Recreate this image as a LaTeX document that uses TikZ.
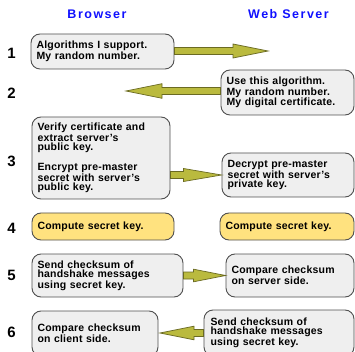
\documentclass[tikz,border=0pt]{standalone}
\usepackage{fontspec}
\setmainfont{Liberation Sans}[LetterSpace=2]
\newfontfamily\hdrfont{Liberation Sans}[LetterSpace=12]
\usetikzlibrary{calc}
\newcommand\apos{\symbol{39}}
\definecolor{boxgray}{HTML}{EFEFEF}
\definecolor{boxline}{HTML}{505050}
\definecolor{boxyellow}{HTML}{FFE27F}
\definecolor{arrfill}{HTML}{BABA3E}
\definecolor{arrline}{HTML}{6A6A22}
\definecolor{hdrblue}{HTML}{1010FF}
\tikzset{
  gbox/.style={draw=boxline, line width=0.9pt, fill=boxgray, rounded corners=9pt,
    inner xsep=5.5pt, inner ysep=0pt, align=left,
    font=\fontsize{10.5}{9.2}\selectfont\bfseries},
  ybox/.style={gbox, fill=boxyellow},
  hdr/.style={font=\hdrfont\fontsize{12.5}{14}\selectfont\bfseries, text=hdrblue},
  num/.style={font=\fontsize{15}{16}\selectfont\bfseries},
  arrowsty/.style={fill=arrfill, draw=arrline, line width=0.7pt, line join=miter}
}
% #1 tail, #2 tip, #3 head length, #4 head half width
\newcommand\fatarrow[4]{%
  \draw[arrowsty] let \p1=(#1), \p2=(#2), \n1={ifthenelse(\x2>\x1,1,-1)},
      \n2={\x2-\n1*#3} in
    ({\x1},{\y2-3.5pt}) -- ({\n2},{\y2-3.5pt}) -- ({\n2},{\y2-#4 pt})
    -- ({\x2},{\y2}) -- ({\n2},{\y2+#4 pt}) -- ({\n2},{\y2+3.5pt})
    -- ({\x1},{\y2+3.5pt}) -- cycle;}
\begin{document}
\begin{tikzpicture}[x=1pt,y=-1pt]
\clip (0,0) rectangle (355,352);
\fill[white] (0,0) rectangle (355,352);

\node[hdr] (hb) at (97,14) {Browser};
\node[hdr] (hs) at (288.5,14) {Web Server};

\node[num] (n1) at (11.5,53.5) {1};
\node[num] (n2) at (11.5,93) {2};
\node[num] (n3) at (11.5,161.5) {3};
\node[num] (n4) at (11.5,228) {4};
\node[num] (n5) at (11.5,275) {5};
\node[num] (n6) at (11.5,332) {6};

\node[gbox, minimum width=143pt, minimum height=35pt, text width=132pt] (b1) at (102.5,51.5)
  {Algorithms I support.\\My random number.};
\node[gbox, minimum width=133pt, minimum height=45pt, text width=122pt] (b2) at (287.5,92.5)
  {Use this algorithm.\\My random number.\\My digital certificate.};
\node[gbox, minimum width=138pt, minimum height=82pt, text width=127pt] (b3l) at (101,158)
  {Verify certificate and\\extract server\apos s\\public key.\\[10pt]Encrypt pre-master\\secret with server\apos s\\public key.};
\node[gbox, minimum width=132pt, minimum height=44pt, text width=121pt] (b3r) at (288,175)
  {Decrypt pre-master\\secret with server\apos s\\private key.};
\node[ybox, minimum width=142pt, minimum height=27pt, text width=131pt] (b4l) at (103,226.5)
  {Compute secret key.};
\node[ybox, minimum width=134pt, minimum height=27pt, text width=123pt] (b4r) at (287,226.5)
  {Compute secret key.};
\node[gbox, minimum width=151pt, minimum height=43pt, text width=140pt] (b5l) at (107.5,275.5)
  {Send checksum of\\handshake messages\\using secret key.};
\node[gbox, minimum width=128pt, minimum height=43pt, text width=117pt] (b5r) at (290,275.5)
  {Compare checksum\\on server side.};
\node[gbox, minimum width=126pt, minimum height=45pt, text width=115pt] (b6l) at (95,333.5)
  {Compare checksum\\on client side.};
\node[gbox, minimum width=150pt, minimum height=46pt, text width=137pt] (b6r) at (279,333)
  {Send checksum of\\handshake messages\\using secret key.};

\coordinate (t1) at (268,51);
\coordinate (t2) at (126,91);
\coordinate (t6) at (160,333);

\fatarrow{b1.east}{t1}{35}{7}
\fatarrow{b2.west}{t2}{36}{7.3}
\fatarrow{b3l.east}{b3r.west}{38}{6.5}
\fatarrow{b5l.east}{b5r.west}{32}{6.3}
\fatarrow{b6r.west}{t6}{34}{6.8}
\end{tikzpicture}
\end{document}
